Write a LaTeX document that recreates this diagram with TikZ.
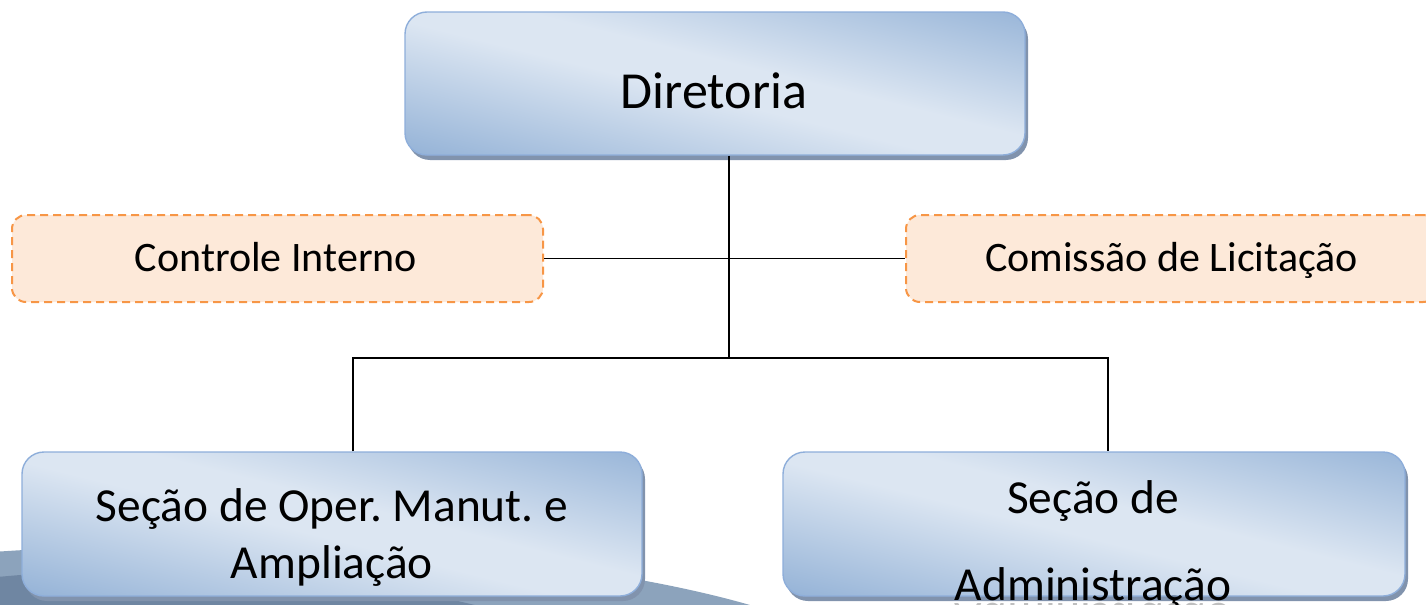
\documentclass[tikz,border=0pt]{standalone}
\usepackage{fontspec}
\setmainfont{Carlito}
\definecolor{boxdark}{HTML}{95B3D7}
\definecolor{boxlight}{HTML}{DCE6F2}
\definecolor{boxline}{HTML}{8EAEDA}
\definecolor{shadowc}{HTML}{8193AD}
\definecolor{orfill}{HTML}{FDE9D9}
\definecolor{orline}{HTML}{F79646}
\definecolor{bgA}{HTML}{8CA3BC}
\definecolor{bgB}{HTML}{6F86A2}
\pgfdeclareverticalshading{boxshade}{100bp}{%
  color(0bp)=(boxdark); color(20bp)=(boxdark);
  color(47bp)=(boxlight); color(55bp)=(boxlight);
  color(82bp)=(boxdark); color(100bp)=(boxdark)}
\tikzset{
  bluebox/.style={rounded corners=11pt, draw=boxline, line width=0.7pt,
    shading=boxshade, shading angle=-14, inner sep=0pt,
    preaction={fill=shadowc, transform canvas={shift={(1.5pt,-2.5pt)}}}},
  orbox/.style={rounded corners=7pt, draw=orline, fill=orfill,
    dash pattern=on 4pt off 2.5pt, line width=1pt,
    minimum width=265.5pt, minimum height=43.5pt, inner sep=0pt},
  wire/.style={draw=black, line width=0.8pt},
  lbl/.style={anchor=base, inner sep=0pt, text=black},
  bigfont/.style={font=\fontsize{26}{30}\selectfont},
  midfont/.style={font=\fontsize{23.7}{28}\selectfont},
  smallfont/.style={font=\fontsize{21}{25}\selectfont},
}
\begin{document}
\frenchspacing
\begin{tikzpicture}[x=0.5pt,y=-0.5pt]
\useasboundingbox (0,0) rectangle (1426,605);
\clip (0,0) rectangle (1426,605);
% background shapes
\fill[bgA] (200,700) ellipse [x radius=348pt, y radius=77.5pt];
\fill[bgB] (150,730) ellipse [x radius=260pt, y radius=80pt];
% boxes
\node[bluebox, minimum width=310pt, minimum height=71.5pt] (dir) at (715,83.5) {};
\node[orbox] (ci) at (277.5,258.5) {};
\node[orbox] (cl) at (1171.5,258.5) {};
\node[bluebox, minimum width=310pt, minimum height=72pt] (oper) at (332,524) {};
\node[bluebox, minimum width=311pt, minimum height=72pt] (adm) at (1094,524) {};
% connectors
\coordinate (jc) at (729,358);
\coordinate (jl) at (353,358);
\coordinate (jr) at (1108,358);
\draw[wire] (jc |- dir.south) -- (jc);
\draw[wire] (ci.east) -- (cl.west);
\draw[wire] (jl |- oper.north) -- (jl) -- (jr) -- (jr |- adm.north);
% labels
\node[lbl, bigfont] (dirt) at (714,108) {Diretoria};
\node[lbl, smallfont] (cit) at (276,271) {Controle Interno};
\node[lbl, smallfont] (clt) at (1171.5,271) {Comissão de Licitação};
\node[lbl, midfont] (opt1) at (332,521) {Seção de Oper. Manut. e};
\node[lbl, midfont] (opt2) at (332,578) {Ampliação};
\node[lbl, midfont] (adt1) at (1093,513) {Seção de};
\node[lbl, midfont] (adt2) at (1093,600) {Administração};
\node[lbl, midfont, opacity=0.25, yscale=-1, transform shape] (adt2r) at (1093,603) {Administração};
\end{tikzpicture}
\end{document}
